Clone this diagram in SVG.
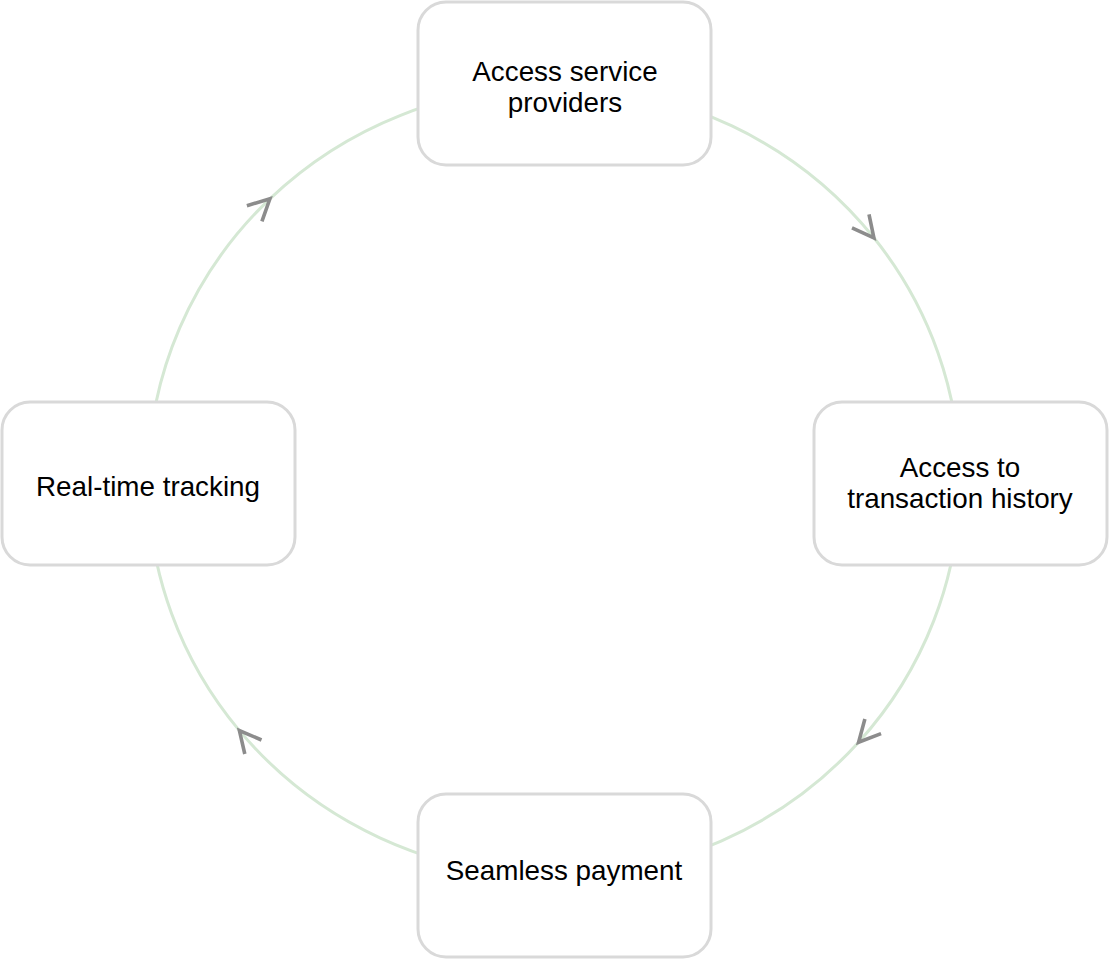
<svg xmlns="http://www.w3.org/2000/svg" width="1112" height="960" viewBox="0 0 1112 960">
  <style>
    .box { fill: #ffffff; stroke: #d9d9d9; stroke-width: 3; }
    .lbl { font-family: "Liberation Sans", Arial, sans-serif; font-size: 27.8px; fill: #000000; text-anchor: middle; }
    .conn { fill: none; stroke: #d5e8d4; stroke-width: 3; marker-mid: url(#chev); }
  </style>
  <defs>
    <marker id="chev" markerUnits="userSpaceOnUse" viewBox="-26 -15 30 30" markerWidth="30" markerHeight="30" refX="0" refY="0" orient="auto" overflow="visible">
      <path d="M -21.4 -10.9 L 0 0 L -21.4 10.9" fill="none" stroke="#8c8c8c" stroke-width="3.6" stroke-linejoin="miter"/>
    </marker>
  </defs>
  <rect width="1112" height="960" fill="#ffffff"/>
  <g id="connectors">
    <path class="conn" d="M 554 86 A 406 395 0 0 1 873.9 237.8 A 406 395 0 0 1 960 481"/>
    <path class="conn" d="M 960 481 A 406 395 0 0 1 858.6 742.2 A 406 395 0 0 1 554 876"/>
    <path class="conn" d="M 554 876 A 406 395 0 0 1 239.4 730.6 A 406 395 0 0 1 148 481"/>
    <path class="conn" d="M 148 481 A 406 395 0 0 1 269.9 198.8 A 406 395 0 0 1 554 86"/>
  </g>
  <g id="node-top">
    <rect class="box" x="418" y="2" width="293" height="163" rx="28"/>
    <text class="lbl" x="565" y="81">Access service</text>
    <text class="lbl" x="565" y="112">providers</text>
  </g>
  <g id="node-right">
    <rect class="box" x="814" y="402" width="293" height="163" rx="28"/>
    <text class="lbl" x="960" y="477">Access to</text>
    <text class="lbl" x="960" y="508">transaction history</text>
  </g>
  <g id="node-bottom">
    <rect class="box" x="418" y="794" width="293" height="163" rx="28"/>
    <text class="lbl" x="564" y="880">Seamless payment</text>
  </g>
  <g id="node-left">
    <rect class="box" x="2" y="402" width="293" height="163" rx="28"/>
    <text class="lbl" x="148" y="496">Real-time tracking</text>
  </g>
</svg>
